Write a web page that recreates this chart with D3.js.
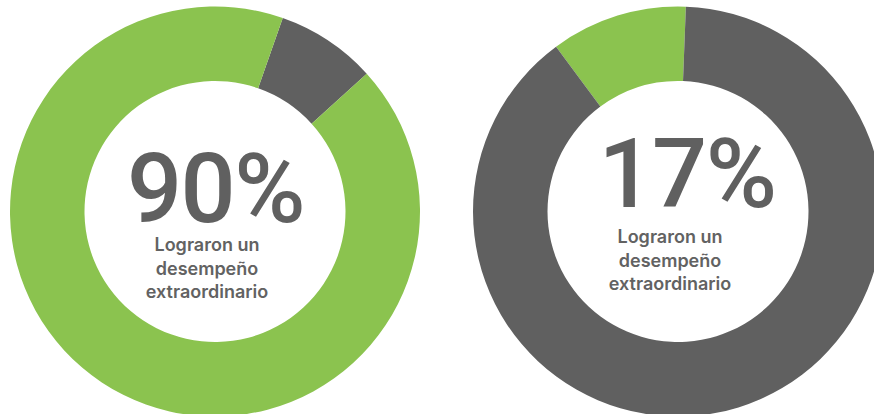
<!DOCTYPE html>
<html>
<head>
<meta charset="utf-8">
<script src="https://cdn.jsdelivr.net/npm/d3@7"></script>
<style>
  html, body { margin: 0; padding: 0; background: #fff; }
  svg { display: block; }
  .big { font-family: Roboto, "Noto Sans", sans-serif; font-weight: 500; fill: #606060; }
  .cap { font-family: Inter, "Noto Sans", sans-serif; font-weight: 600; fill: #626262; }
</style>
</head>
<body>
<div class="donuts"></div>
<script>
// values
const bigLabels = ["90%", "17%"];
const caption = ["Lograron un", "desempeño", "extraordinario"];
const sliceKeys = [["otros", "logro"], ["logro", "otros"]];
const sliceValues = [[7.9, 92.1], [10.75, 89.25]];

const colors = {logro: "#8bc34f", otros: "#606060"};

const width = 874, height = 414;
const outerR = 205, innerR = 130.5;
// layout of each donut (centre, start rotation in degrees, text offsets)
const layout = [
  {cx: 215, cy: 211.5, start: 19.3, bigX: 215.5, capX: 207, bigY: 222, capY: 251},
  {cx: 678, cy: 211.5, start: -36.5, bigX: 687, capX: 670, bigY: 207, capY: 243}
];

const svg = d3.select(".donuts")
  .append("svg")
  .attr("width", width)
  .attr("height", height);

const arc = d3.arc()
  .innerRadius(innerR)
  .outerRadius(outerR);

bigLabels.forEach(function(lbl, i){
  const L = layout[i];
  const a0 = L.start * Math.PI / 180;
  const pie = d3.pie()
    .sort(null)
    .value(d => d.v)
    .startAngle(a0)
    .endAngle(a0 + 2 * Math.PI);

  const data = sliceKeys[i].map((k, j) => ({key: k, v: sliceValues[i][j]}));

  const g = svg.append("g")
    .attr("transform", `translate(${L.cx},${L.cy})`);

  g.selectAll("path")
    .data(pie(data))
    .enter()
    .append("path")
    .attr("d", arc)
    .attr("fill", d => colors[d.data.key]);

  svg.append("text")
    .attr("class", "big")
    .attr("x", L.bigX)
    .attr("y", L.bigY)
    .attr("text-anchor", "middle")
    .attr("font-size", 97)
    .attr("letter-spacing", -1.5)
    .text(lbl);

  svg.selectAll(null)
    .data(caption)
    .enter()
    .append("text")
    .attr("class", "cap")
    .attr("x", L.capX)
    .attr("y", (d, j) => L.capY + j * 23.5)
    .attr("text-anchor", "middle")
    .attr("font-size", 18)
    .text(d => d);
});
</script>
</body>
</html>
